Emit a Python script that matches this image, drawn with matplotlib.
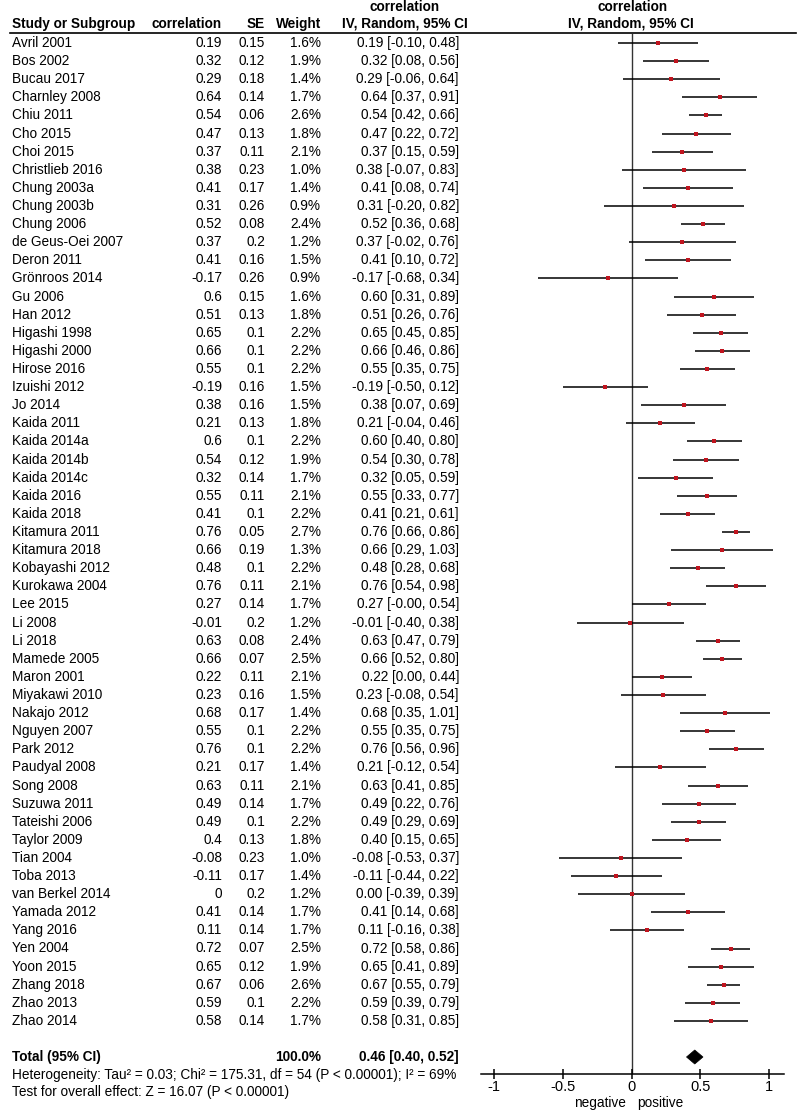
import matplotlib
matplotlib.use("Agg")
import matplotlib.pyplot as plt
from matplotlib.transforms import blended_transform_factory
from matplotlib.patches import Polygon

plt.rcParams['font.family'] = ['Liberation Sans', 'DejaVu Sans']

studies = ["Avril 2001", "Bos 2002", "Bucau 2017", "Charnley 2008", "Chiu 2011", "Cho 2015",
           "Choi 2015", "Christlieb 2016", "Chung 2003a", "Chung 2003b", "Chung 2006",
           "de Geus-Oei 2007", "Deron 2011", "Grönroos 2014", "Gu 2006", "Han 2012",
           "Higashi 1998", "Higashi 2000", "Hirose 2016", "Izuishi 2012", "Jo 2014",
           "Kaida 2011", "Kaida 2014a", "Kaida 2014b", "Kaida 2014c", "Kaida 2016",
           "Kaida 2018", "Kitamura 2011", "Kitamura 2018", "Kobayashi 2012", "Kurokawa 2004",
           "Lee 2015", "Li 2008", "Li 2018", "Mamede 2005", "Maron 2001", "Miyakawi 2010",
           "Nakajo 2012", "Nguyen 2007", "Park 2012", "Paudyal 2008", "Song 2008",
           "Suzuwa 2011", "Tateishi 2006", "Taylor 2009", "Tian 2004", "Toba 2013",
           "van Berkel 2014", "Yamada 2012", "Yang 2016", "Yen 2004", "Yoon 2015",
           "Zhang 2018", "Zhao 2013", "Zhao 2014"]
corr = [0.19, 0.32, 0.29, 0.64, 0.54, 0.47, 0.37, 0.38, 0.41, 0.31, 0.52, 0.37, 0.41, -0.17,
        0.6, 0.51, 0.65, 0.66, 0.55, -0.19, 0.38, 0.21, 0.6, 0.54, 0.32, 0.55, 0.41, 0.76,
        0.66, 0.48, 0.76, 0.27, -0.01, 0.63, 0.66, 0.22, 0.23, 0.68, 0.55, 0.76, 0.21, 0.63,
        0.49, 0.49, 0.4, -0.08, -0.11, 0, 0.41, 0.11, 0.72, 0.65, 0.67, 0.59, 0.58]
se = [0.15, 0.12, 0.18, 0.14, 0.06, 0.13, 0.11, 0.23, 0.17, 0.26, 0.08, 0.2, 0.16, 0.26,
      0.15, 0.13, 0.1, 0.1, 0.1, 0.16, 0.16, 0.13, 0.1, 0.12, 0.14, 0.11, 0.1, 0.05, 0.19,
      0.1, 0.11, 0.14, 0.2, 0.08, 0.07, 0.11, 0.16, 0.17, 0.1, 0.1, 0.17, 0.11, 0.14, 0.1,
      0.13, 0.23, 0.17, 0.2, 0.14, 0.14, 0.07, 0.12, 0.06, 0.1, 0.14]
weight = [1.6, 1.9, 1.4, 1.7, 2.6, 1.8, 2.1, 1.0, 1.4, 0.9, 2.4, 1.2, 1.5, 0.9, 1.6, 1.8,
          2.2, 2.2, 2.2, 1.5, 1.5, 1.8, 2.2, 1.9, 1.7, 2.1, 2.2, 2.7, 1.3, 2.2, 2.1, 1.7,
          1.2, 2.4, 2.5, 2.1, 1.5, 1.4, 2.2, 2.2, 1.4, 2.1, 1.7, 2.2, 1.8, 1.0, 1.4, 1.2,
          1.7, 1.7, 2.5, 1.9, 2.6, 2.2, 1.7]
ci_low = [-0.10, 0.08, -0.06, 0.37, 0.42, 0.22, 0.15, -0.07, 0.08, -0.20, 0.36, -0.02, 0.10,
          -0.68, 0.31, 0.26, 0.45, 0.46, 0.35, -0.50, 0.07, -0.04, 0.40, 0.30, 0.05, 0.33,
          0.21, 0.66, 0.29, 0.28, 0.54, -0.0, -0.40, 0.47, 0.52, 0.00, -0.08, 0.35, 0.35,
          0.56, -0.12, 0.41, 0.22, 0.29, 0.15, -0.53, -0.44, -0.39, 0.14, -0.16, 0.58, 0.41,
          0.55, 0.39, 0.31]
ci_high = [0.48, 0.56, 0.64, 0.91, 0.66, 0.72, 0.59, 0.83, 0.74, 0.82, 0.68, 0.76, 0.72, 0.34,
           0.89, 0.76, 0.85, 0.86, 0.75, 0.12, 0.69, 0.46, 0.80, 0.78, 0.59, 0.77, 0.61, 0.86,
           1.03, 0.68, 0.98, 0.54, 0.38, 0.79, 0.80, 0.44, 0.54, 1.01, 0.75, 0.96, 0.54, 0.85,
           0.76, 0.69, 0.65, 0.37, 0.22, 0.39, 0.68, 0.38, 0.86, 0.89, 0.79, 0.79, 0.85]
total_est = 0.46
total_low = 0.40
total_high = 0.52
total_weight = "100.0%"
heterogeneity = "Heterogeneity: Tau² = 0.03; Chi² = 175.31, df = 54 (P < 0.00001); I² = 69%"
overall = "Test for overall effect: Z = 16.07 (P < 0.00001)"
xticks = [-1, -0.5, 0, 0.5, 1]
xticklabels = ["-1", "-0.5", "0", "0.5", "1"]

W, H = 800, 1115
fig = plt.figure(figsize=(W / 100, H / 100), dpi=100)

# pixel geometry
x_m1, x_p1 = 494.0, 769.0
scale = (x_p1 - x_m1) / 2.0
x_zero = (x_m1 + x_p1) / 2.0
ax_left, ax_right = 481.0, 784.0
row0_y, row_step = 43.0, 18.11
ax_top, ax_bot = 34.0, 1074.0

ax = fig.add_axes([ax_left / W, 1 - ax_bot / H, (ax_right - ax_left) / W, (ax_bot - ax_top) / H])
ax.set_xlim((ax_left - x_zero) / scale, (ax_right - x_zero) / scale)
ax.set_ylim((ax_bot - row0_y) / row_step, (ax_top - row0_y) / row_step)
ax.patch.set_alpha(0)
for s in ["top", "left", "right"]:
    ax.spines[s].set_visible(False)
ax.spines["bottom"].set_linewidth(1.1)
ax.set_yticks([])
ax.set_xticks(xticks)
ax.set_xticklabels(xticklabels)
ax.tick_params(axis="x", direction="inout", length=7, width=1.1, labelsize=10.5, pad=1)

ax.axvline(0, color="#333333", lw=1.0, zorder=1)

n = len(studies)
for i in range(n):
    ax.plot([ci_low[i], ci_high[i]], [i, i], color="black", lw=1.1, zorder=2,
            solid_capstyle="butt")
    ax.plot(corr[i], i, marker="s", color="#c0141e", markersize=2.2 + 0.35 * weight[i],
            markeredgewidth=0, zorder=3)

total_row = (1057.0 - row0_y) / row_step
dh = 7.0 / row_step
diamond = Polygon([[total_low, total_row], [total_est, total_row - dh],
                   [total_high, total_row], [total_est, total_row + dh]],
                  closed=True, facecolor="black", edgecolor="black", lw=0.5, zorder=3)
ax.add_patch(diamond)

tr = blended_transform_factory(fig.transFigure, ax.transData)
fs = 9.8
for i in range(n):
    ax.text(12 / W, i, studies[i], transform=tr, ha="left", va="center", fontsize=fs, clip_on=False)
    ax.text(222 / W, i, f"{corr[i]:g}", transform=tr, ha="right", va="center", fontsize=fs, clip_on=False)
    ax.text(265 / W, i, f"{se[i]:g}", transform=tr, ha="right", va="center", fontsize=fs, clip_on=False)
    ax.text(321 / W, i, f"{weight[i]:.1f}%", transform=tr, ha="right", va="center", fontsize=fs, clip_on=False)
    ax.text(459 / W, i, f"{corr[i]:.2f} [{ci_low[i]:.2f}, {ci_high[i]:.2f}]", transform=tr,
            ha="right", va="center", fontsize=fs, clip_on=False)

ax.text(12 / W, total_row, "Total (95% CI)", transform=tr, ha="left", va="center",
        fontsize=fs, fontweight="bold", clip_on=False)
ax.text(321 / W, total_row, total_weight, transform=tr, ha="right", va="center",
        fontsize=fs, fontweight="bold", clip_on=False)
ax.text(459 / W, total_row, f"{total_est:.2f} [{total_low:.2f}, {total_high:.2f}]", transform=tr,
        ha="right", va="center", fontsize=fs, fontweight="bold", clip_on=False)

def fig_text(xp, yp, s, **kw):
    fig.text(xp / W, 1 - yp / H, s, fontsize=kw.pop("fontsize", fs), **kw)

fig_text(12, 1075, heterogeneity, ha="left", va="center")
fig_text(12, 1092, overall, ha="left", va="center")

# headers
hb = dict(fontweight="bold", va="center")
fig_text(12, 24, "Study or Subgroup", ha="left", **hb)
fig_text(222, 24, "correlation", ha="right", **hb)
fig_text(265, 24, "SE", ha="right", **hb)
fig_text(321, 24, "Weight", ha="right", **hb)
fig_text(405, 7, "correlation", ha="center", **hb)
fig_text(405, 24, "IV, Random, 95% CI", ha="center", **hb)
fig_text(633, 7, "correlation", ha="center", **hb)
fig_text(631, 24, "IV, Random, 95% CI", ha="center", **hb)

fig.add_artist(plt.Line2D([10 / W, 796 / W], [1 - 32.5 / H, 1 - 32.5 / H], color="black", lw=1.2))

fig_text(626, 1103, "negative", ha="right", va="center")
fig_text(637, 1103, "positive", ha="left", va="center")

fig.savefig("out.png", dpi=100)
